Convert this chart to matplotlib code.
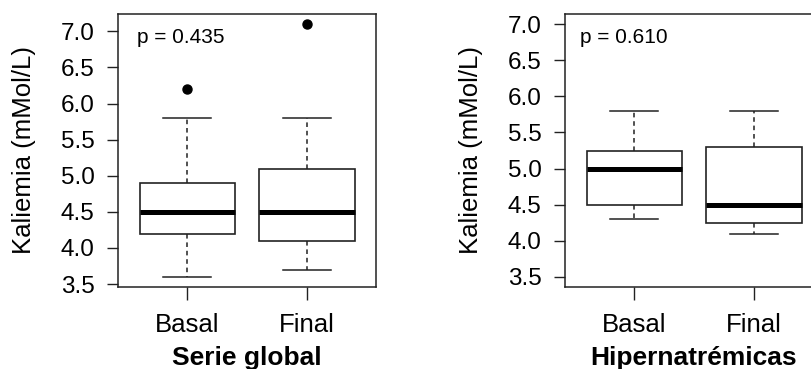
import matplotlib
matplotlib.use("Agg")
import matplotlib.pyplot as plt

plt.rcParams['font.family'] = ['Liberation Sans', 'DejaVu Sans']

groups = ['Basal', 'Final']

# Serie global: whislo, q1, med, q3, whishi, fliers
glob_lo = [3.6, 3.7]
glob_q1 = [4.2, 4.1]
glob_med = [4.5, 4.5]
glob_q3 = [4.9, 5.1]
glob_hi = [5.8, 5.8]
glob_out = [[6.2], [7.1]]

# Hipernatremicas
hip_lo = [4.3, 4.1]
hip_q1 = [4.5, 4.25]
hip_med = [5.0, 4.5]
hip_q3 = [5.25, 5.3]
hip_hi = [5.8, 5.8]
hip_out = [[], []]

yticks = [3.5, 4.0, 4.5, 5.0, 5.5, 6.0, 6.5, 7.0]


def make_stats(lo, q1, med, q3, hi, out):
    return [dict(whislo=lo[i], q1=q1[i], med=med[i], q3=q3[i], whishi=hi[i],
                 fliers=out[i], label=groups[i]) for i in range(len(groups))]


def draw(ax, stats, ylim, ptxt, title, ptxt_x, ptxt_y):
    ax.bxp(stats, positions=[1, 2], widths=0.8, patch_artist=True,
           boxprops=dict(facecolor='white', edgecolor='#222222', linewidth=1.2),
           medianprops=dict(color='black', linewidth=3.6, solid_capstyle='butt'),
           whiskerprops=dict(color='#222222', linewidth=1.1, linestyle=(0, (3, 2.5))),
           capprops=dict(color='#222222', linewidth=1.1),
           flierprops=dict(marker='o', markerfacecolor='black', markeredgecolor='black',
                           markersize=6.5),
           capwidths=0.4)
    ax.set_xlim(0.42, 2.58)
    r = ylim[1] - ylim[0]
    ax.set_ylim(ylim[0] - 0.04 * r, ylim[1] + 0.04 * r)
    ax.set_yticks(yticks)
    ax.set_yticklabels(['%.1f' % v for v in yticks])
    ax.set_xticks([1, 2])
    ax.set_xticklabels(groups)
    ax.tick_params(axis='y', length=8, width=1, labelsize=17.5, pad=9, color='#222222')
    ax.tick_params(axis='x', length=9.5, width=1, labelsize=18.5, pad=9, color='#222222')
    for s in ax.spines.values():
        s.set_linewidth(1.1)
        s.set_color('#222222')
    ax.set_ylabel('Kaliemia (mMol/L)', fontsize=18.5)
    ax.yaxis.set_label_coords(-0.318, 0.5)
    ax.set_xlabel(title, fontsize=19, fontweight='bold', labelpad=7)
    ax.text(ptxt_x, ptxt_y, ptxt, fontsize=15, va='center')


fig = plt.figure(figsize=(8.11, 3.69), dpi=100)
ax1 = fig.add_axes([118 / 811, 1 - 287 / 369, 258 / 811, 273 / 369])
ax2 = fig.add_axes([565 / 811, 1 - 287 / 369, 258 / 811, 273 / 369])

draw(ax1, make_stats(glob_lo, glob_q1, glob_med, glob_q3, glob_hi, glob_out),
     (3.6, 7.1), 'p = 0.435', 'Serie global', 0.58, 6.91)
draw(ax2, make_stats(hip_lo, hip_q1, hip_med, hip_q3, hip_hi, hip_out),
     (3.5, 7.0), 'p = 0.610', 'Hipernatrémicas', 0.545, 6.81)

fig.savefig('out.png', dpi=100)
